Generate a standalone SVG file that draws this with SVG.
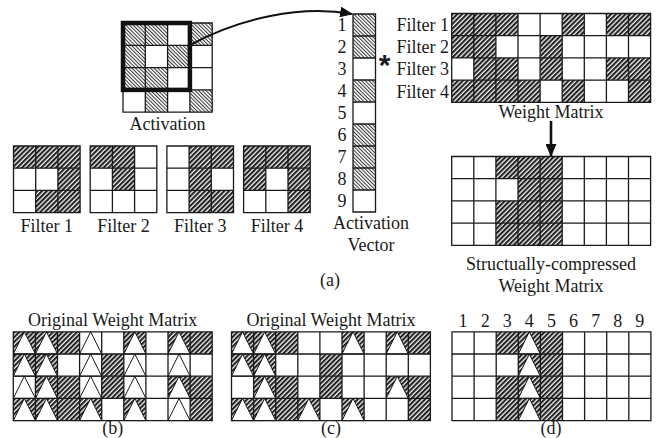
<svg xmlns="http://www.w3.org/2000/svg" xmlns:xlink="http://www.w3.org/1999/xlink" width="657" height="438" viewBox="0 0 657 438">
  <style>
    text { font-family: "Liberation Serif", "Times New Roman", serif; font-size: 18px; fill: #1a1a1a; }
    .mid { text-anchor: middle; }
    .end { text-anchor: end; }
    .ha { fill: url(#hatchA); }
    .hw { fill: url(#hatchW); }
    .grid { fill: none; stroke: #1a1a1a; stroke-width: 1.3; }
    .tri { fill: #fff; stroke: #1a1a1a; stroke-width: 1; stroke-linejoin: miter; }
  </style>
  <defs>
    <!-- fine "\\\" hatching used for activations -->
    <pattern id="hatchA" width="2.6" height="10" patternUnits="userSpaceOnUse" patternTransform="rotate(-45)">
      <rect width="2.6" height="10" fill="#fff"/>
      <line x1="0.5" y1="0" x2="0.5" y2="10" stroke="#333" stroke-width="1"/>
    </pattern>
    <!-- heavier "///" hatching used for weights -->
    <pattern id="hatchW" width="3.4" height="10" patternUnits="userSpaceOnUse" patternTransform="rotate(45)">
      <rect width="3.4" height="10" fill="#f4f4f4"/>
      <rect x="0" y="0" width="2.1" height="10" fill="#222"/>
    </pattern>
    <marker id="head" viewBox="0 0 12 10" refX="11" refY="5" markerWidth="13" markerHeight="11" markerUnits="userSpaceOnUse" orient="auto">
      <path d="M0,0 L12,5 L0,10 z" fill="#111"/>
    </marker>
    <marker id="headDown" viewBox="0 0 13 11" refX="12" refY="5.5" markerWidth="13" markerHeight="11" markerUnits="userSpaceOnUse" orient="auto">
      <path d="M0,0 L13,5.5 L0,11 z" fill="#111"/>
    </marker>
    <!-- 4 x 9 matrix grid lines -->
    <path id="grid49" d="M0 0H198.9V88.8H0Z M22.1 0V88.8 M44.2 0V88.8 M66.3 0V88.8 M88.4 0V88.8 M110.5 0V88.8 M132.6 0V88.8 M154.7 0V88.8 M176.8 0V88.8 M0 22.2H198.9 M0 44.4H198.9 M0 66.6H198.9"/>
    <path id="grid33" d="M0 0H66.6V66.6H0Z M22.2 0V66.6 M44.4 0V66.6 M0 22.2H66.6 M0 44.4H66.6"/>
    <polygon id="tri" points="0,22.2 11.05,0 22.1,22.2"/>
  </defs>

  <rect width="657" height="438" fill="#fff"/>

  <!-- input activation 4x4 with the 3x3 receptive window -->
  <g id="activation">
    <g transform="translate(123,23)">
      <rect class="ha" x="0" y="0" width="44.6" height="22.3"/>
      <rect class="ha" x="66.9" y="0" width="22.3" height="22.3"/>
      <rect class="ha" x="0" y="22.3" width="22.3" height="22.3"/>
      <rect class="ha" x="44.6" y="22.3" width="22.3" height="22.3"/>
      <rect class="ha" x="0" y="44.6" width="44.6" height="22.3"/>
      <rect class="ha" x="22.3" y="66.9" width="22.3" height="22.3"/>
      <rect class="ha" x="66.9" y="66.9" width="22.3" height="22.3"/>
      <path class="grid" d="M0 0H89.2V89.2H0Z M22.3 0V89.2 M44.6 0V89.2 M66.9 0V89.2 M0 22.3H89.2 M0 44.6H89.2 M0 66.9H89.2"/>
      <rect x="0" y="0" width="66.9" height="66.9" fill="none" stroke="#111" stroke-width="4.5"/>
    </g>
    <text class="mid" x="167.6" y="130">Activation</text>
  </g>

  <!-- 3x3 filters -->
  <g id="filter1">
    <g transform="translate(13.5,146)">
      <rect class="hw" x="0" y="0" width="66.6" height="22.2"/>
      <rect class="hw" x="44.4" y="22.2" width="22.2" height="22.2"/>
      <rect class="hw" x="22.2" y="44.4" width="44.4" height="22.2"/>
      <use href="#grid33" class="grid"/>
    </g>
    <text class="mid" x="46.8" y="232">Filter 1</text>
  </g>
  <g id="filter2">
    <g transform="translate(90.2,146)">
      <rect class="hw" x="0" y="0" width="44.4" height="22.2"/>
      <rect class="hw" x="22.2" y="22.2" width="22.2" height="22.2"/>
      <use href="#grid33" class="grid"/>
    </g>
    <text class="mid" x="123.5" y="232">Filter 2</text>
  </g>
  <g id="filter3">
    <g transform="translate(166.9,146)">
      <rect class="hw" x="22.2" y="0" width="44.4" height="22.2"/>
      <rect class="hw" x="22.2" y="22.2" width="22.2" height="22.2"/>
      <rect class="hw" x="22.2" y="44.4" width="44.4" height="22.2"/>
      <use href="#grid33" class="grid"/>
    </g>
    <text class="mid" x="200.2" y="232">Filter 3</text>
  </g>
  <g id="filter4">
    <g transform="translate(243.6,146)">
      <rect class="hw" x="0" y="0" width="66.6" height="22.2"/>
      <rect class="hw" x="0" y="22.2" width="22.2" height="22.2"/>
      <rect class="hw" x="44.4" y="22.2" width="22.2" height="22.2"/>
      <rect class="hw" x="44.4" y="44.4" width="22.2" height="22.2"/>
      <use href="#grid33" class="grid"/>
    </g>
    <text class="mid" x="276.9" y="232">Filter 4</text>
  </g>

  <!-- flattened activation vector -->
  <g id="activation-vector">
    <g transform="translate(353,14)">
      <rect class="ha" x="0" y="0" width="22.5" height="44"/>
      <rect class="ha" x="0" y="66" width="22.5" height="22"/>
      <rect class="ha" x="0" y="110" width="22.5" height="66"/>
      <path class="grid" d="M0 0H22.5V198H0Z M0 22H22.5 M0 44H22.5 M0 66H22.5 M0 88H22.5 M0 110H22.5 M0 132H22.5 M0 154H22.5 M0 176H22.5"/>
    </g>
    <text class="mid" x="342" y="31.3">1</text>
    <text class="mid" x="342" y="53.3">2</text>
    <text class="mid" x="342" y="75.3">3</text>
    <text class="mid" x="342" y="97.3">4</text>
    <text class="mid" x="342" y="119.3">5</text>
    <text class="mid" x="342" y="141.3">6</text>
    <text class="mid" x="342" y="163.3">7</text>
    <text class="mid" x="342" y="185.3">8</text>
    <text class="mid" x="342" y="207.3">9</text>
    <text class="mid" x="371" y="229">Activation</text>
    <text class="mid" x="371" y="251">Vector</text>
  </g>

  <text id="times" x="384.5" y="75" style="font-family: 'Liberation Sans', Arial, sans-serif; font-size: 30px; font-weight: bold;" text-anchor="middle">*</text>

  <!-- weight matrix: one row per filter -->
  <g id="weight-matrix">
    <g transform="translate(451.7,13.5)">
      <rect class="hw" x="0" y="0" width="66.3" height="22.2"/>
      <rect class="hw" x="110.5" y="0" width="22.1" height="22.2"/>
      <rect class="hw" x="154.7" y="0" width="44.2" height="22.2"/>
      <rect class="hw" x="0" y="22.2" width="44.2" height="22.2"/>
      <rect class="hw" x="88.4" y="22.2" width="22.1" height="22.2"/>
      <rect class="hw" x="22.1" y="44.4" width="44.2" height="22.2"/>
      <rect class="hw" x="88.4" y="44.4" width="22.1" height="22.2"/>
      <rect class="hw" x="154.7" y="44.4" width="44.2" height="22.2"/>
      <rect class="hw" x="0" y="66.6" width="88.4" height="22.2"/>
      <rect class="hw" x="110.5" y="66.6" width="22.1" height="22.2"/>
      <rect class="hw" x="176.8" y="66.6" width="22.1" height="22.2"/>
      <use href="#grid49" class="grid"/>
    </g>
    <text class="end" x="449" y="30.9">Filter 1</text>
    <text class="end" x="449" y="53.1">Filter 2</text>
    <text class="end" x="449" y="75.3">Filter 3</text>
    <text class="end" x="449" y="97.5">Filter 4</text>
    <text class="mid" x="551" y="118">Weight Matrix</text>
  </g>

  <!-- structurally compressed weight matrix -->
  <g id="compressed-matrix">
    <g transform="translate(451.7,156.5)">
      <rect class="hw" x="44.2" y="0" width="66.3" height="22.2"/>
      <rect class="hw" x="66.3" y="22.2" width="44.2" height="22.2"/>
      <rect class="hw" x="44.2" y="44.4" width="66.3" height="44.4"/>
      <use href="#grid49" class="grid"/>
    </g>
    <text class="mid" x="551" y="270">Structually-compressed</text>
    <text class="mid" x="551" y="292">Weight Matrix</text>
  </g>

  <text class="mid" x="330" y="286">(a)</text>

  <!-- (b) original weights with pruned columns marked -->
  <g id="matrix-b">
    <text class="mid" x="112.7" y="326">Original Weight Matrix</text>
    <g transform="translate(13.3,331.8)">
      <rect class="hw" x="0" y="0" width="66.3" height="22.2"/>
      <rect class="hw" x="110.5" y="0" width="22.1" height="22.2"/>
      <rect class="hw" x="154.7" y="0" width="44.2" height="22.2"/>
      <rect class="hw" x="0" y="22.2" width="44.2" height="22.2"/>
      <rect class="hw" x="88.4" y="22.2" width="22.1" height="22.2"/>
      <rect class="hw" x="22.1" y="44.4" width="44.2" height="22.2"/>
      <rect class="hw" x="88.4" y="44.4" width="22.1" height="22.2"/>
      <rect class="hw" x="154.7" y="44.4" width="44.2" height="22.2"/>
      <rect class="hw" x="0" y="66.6" width="88.4" height="22.2"/>
      <rect class="hw" x="110.5" y="66.6" width="22.1" height="22.2"/>
      <rect class="hw" x="176.8" y="66.6" width="22.1" height="22.2"/>
      <g class="tri">
        <use href="#tri" x="0" y="0"/><use href="#tri" x="22.1" y="0"/><use href="#tri" x="66.3" y="0"/><use href="#tri" x="110.5" y="0"/><use href="#tri" x="154.7" y="0"/>
        <use href="#tri" x="0" y="22.2"/><use href="#tri" x="22.1" y="22.2"/><use href="#tri" x="66.3" y="22.2"/><use href="#tri" x="110.5" y="22.2"/><use href="#tri" x="154.7" y="22.2"/>
        <use href="#tri" x="0" y="44.4"/><use href="#tri" x="22.1" y="44.4"/><use href="#tri" x="66.3" y="44.4"/><use href="#tri" x="110.5" y="44.4"/><use href="#tri" x="154.7" y="44.4"/>
        <use href="#tri" x="0" y="66.6"/><use href="#tri" x="22.1" y="66.6"/><use href="#tri" x="66.3" y="66.6"/><use href="#tri" x="110.5" y="66.6"/><use href="#tri" x="154.7" y="66.6"/>
      </g>
      <use href="#grid49" class="grid"/>
    </g>
    <text class="mid" x="112.7" y="434">(b)</text>
  </g>

  <!-- (c) original weights, marks only on non-zero entries -->
  <g id="matrix-c">
    <text class="mid" x="331" y="326">Original Weight Matrix</text>
    <g transform="translate(231.5,331.8)">
      <rect class="hw" x="0" y="0" width="66.3" height="22.2"/>
      <rect class="hw" x="110.5" y="0" width="22.1" height="22.2"/>
      <rect class="hw" x="154.7" y="0" width="44.2" height="22.2"/>
      <rect class="hw" x="0" y="22.2" width="44.2" height="22.2"/>
      <rect class="hw" x="88.4" y="22.2" width="22.1" height="22.2"/>
      <rect class="hw" x="22.1" y="44.4" width="44.2" height="22.2"/>
      <rect class="hw" x="88.4" y="44.4" width="22.1" height="22.2"/>
      <rect class="hw" x="154.7" y="44.4" width="44.2" height="22.2"/>
      <rect class="hw" x="0" y="66.6" width="88.4" height="22.2"/>
      <rect class="hw" x="110.5" y="66.6" width="22.1" height="22.2"/>
      <rect class="hw" x="176.8" y="66.6" width="22.1" height="22.2"/>
      <g class="tri">
        <use href="#tri" x="0" y="0"/><use href="#tri" x="22.1" y="0"/><use href="#tri" x="110.5" y="0"/><use href="#tri" x="154.7" y="0"/>
        <use href="#tri" x="0" y="22.2"/><use href="#tri" x="22.1" y="22.2"/>
        <use href="#tri" x="22.1" y="44.4"/><use href="#tri" x="154.7" y="44.4"/>
        <use href="#tri" x="0" y="66.6"/><use href="#tri" x="22.1" y="66.6"/><use href="#tri" x="66.3" y="66.6"/><use href="#tri" x="110.5" y="66.6"/>
      </g>
      <use href="#grid49" class="grid"/>
    </g>
    <text class="mid" x="331" y="434">(c)</text>
  </g>

  <!-- (d) compressed matrix with column indices -->
  <g id="matrix-d">
    <text class="mid" x="463.05" y="327">1</text>
    <text class="mid" x="485.15" y="327">2</text>
    <text class="mid" x="507.25" y="327">3</text>
    <text class="mid" x="529.35" y="327">4</text>
    <text class="mid" x="551.45" y="327">5</text>
    <text class="mid" x="573.55" y="327">6</text>
    <text class="mid" x="595.65" y="327">7</text>
    <text class="mid" x="617.75" y="327">8</text>
    <text class="mid" x="639.85" y="327">9</text>
    <g transform="translate(452,331.8)">
      <rect class="hw" x="44.2" y="0" width="66.3" height="22.2"/>
      <rect class="hw" x="66.3" y="22.2" width="44.2" height="22.2"/>
      <rect class="hw" x="44.2" y="44.4" width="66.3" height="44.4"/>
      <g class="tri">
        <use href="#tri" x="66.3" y="0"/><use href="#tri" x="66.3" y="22.2"/><use href="#tri" x="66.3" y="44.4"/><use href="#tri" x="66.3" y="66.6"/>
      </g>
      <use href="#grid49" class="grid"/>
    </g>
    <text class="mid" x="551" y="434">(d)</text>
  </g>

  <!-- connectors -->
  <g id="connectors" fill="none" stroke="#111">
    <path d="M190 45 C240 18 300 5 352 14" stroke-width="2" marker-end="url(#head)"/>
    <line x1="551" y1="121" x2="551" y2="156" stroke-width="2.6" marker-end="url(#headDown)"/>
  </g>
</svg>
